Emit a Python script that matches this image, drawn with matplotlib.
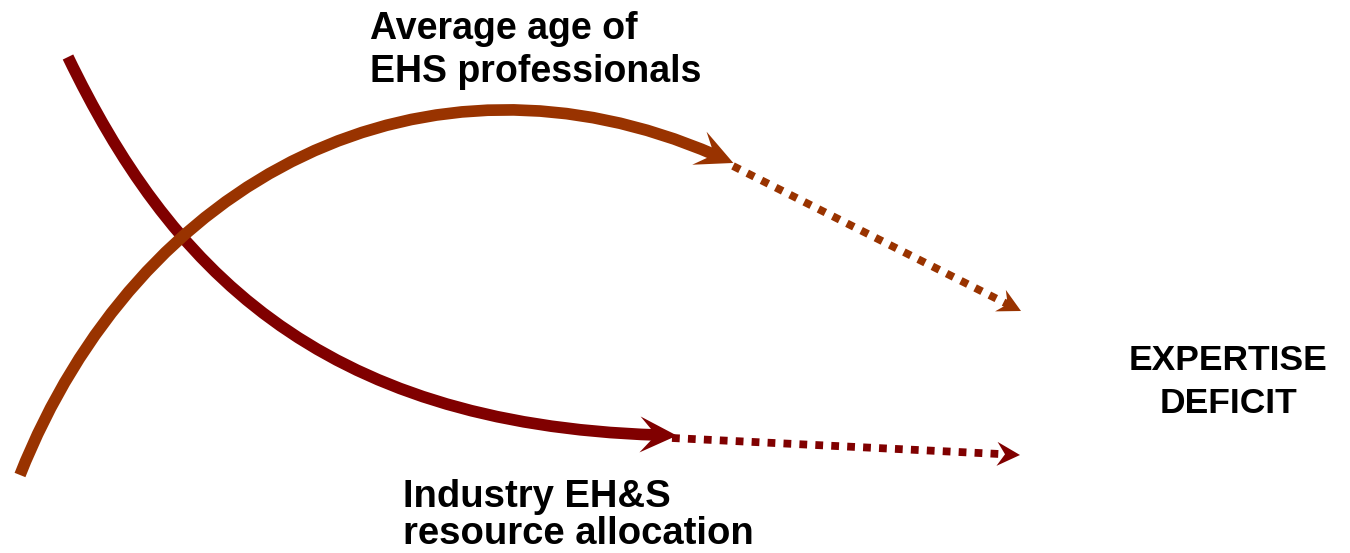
import matplotlib.pyplot as plt
import numpy as np
from matplotlib.path import Path
from matplotlib.patches import PathPatch, Polygon

# Bezier control points of the two trend curves (pixel units, y down)
age_curve = np.array([[20, 475], [138, 177], [425, 29], [715, 155]])
alloc_curve = np.array([[68, 57], [168, 264], [315, 424], [657, 435]])

# dotted projections: start point, arrow tip
age_proj = np.array([[733, 166], [1021, 311]])
alloc_proj = np.array([[672, 438], [1020, 455]])

age_label = ["Average age of", "EHS professionals"]
alloc_label = ["Industry EH&S", "resource allocation"]
result_label = ["EXPERTISE", "DEFICIT"]

age_color = "#993300"
alloc_color = "#800000"


def head(ax, tip, d, L, W, N, color):
    # notched arrow head, d = unit direction
    n = np.array([-d[1], d[0]])
    pts = [tip, tip - L*d + W*n, tip - (L - N)*d, tip - L*d - W*n]
    ax.add_patch(Polygon(pts, closed=True, fc=color, ec="none", zorder=4))


def curve(ax, pts, color, z):
    path = Path(pts, [Path.MOVETO, Path.CURVE4, Path.CURVE4, Path.CURVE4])
    ax.add_patch(PathPatch(path, fc="none", ec=color, lw=8.4,
                           capstyle="butt", zorder=z))
    d = pts[3] - pts[2]
    d = d / np.hypot(*d)
    head(ax, pts[3] + 20*d, d, 37, 18, 16, color)


def dotted(ax, pts, color):
    d = pts[1] - pts[0]
    d = d / np.hypot(*d)
    end = pts[1] - 14*d
    ax.plot([pts[0][0], end[0]], [pts[0][1], end[1]], color=color, lw=5.6,
            linestyle=(0, (1.0, 1.05)), dash_capstyle="butt", zorder=3)
    head(ax, pts[1], d, 23, 12, 8, color)


fig = plt.figure(figsize=(13.5, 5.53), dpi=100)
ax = fig.add_axes([0, 0, 1, 1])
ax.set_xlim(0, 1350)
ax.set_ylim(553, 0)
ax.axis("off")

curve(ax, alloc_curve, alloc_color, 2)
curve(ax, age_curve, age_color, 3)
dotted(ax, age_proj, age_color)
dotted(ax, alloc_proj, alloc_color)

font = dict(family="Liberation Sans", weight="bold", color="black")
ax.text(370, 39, age_label[0], fontsize=27, va="baseline", **font)
ax.text(370, 82, age_label[1], fontsize=27, va="baseline", **font)
ax.text(403, 507, alloc_label[0], fontsize=27.5, va="baseline", **font)
ax.text(403, 544, alloc_label[1], fontsize=27.5, va="baseline", **font)
ax.text(1228, 370, result_label[0], fontsize=25.5, va="baseline", ha="center", **font)
ax.text(1228, 413, result_label[1], fontsize=25.5, va="baseline", ha="center", **font)

plt.savefig("out.png", dpi=100)
